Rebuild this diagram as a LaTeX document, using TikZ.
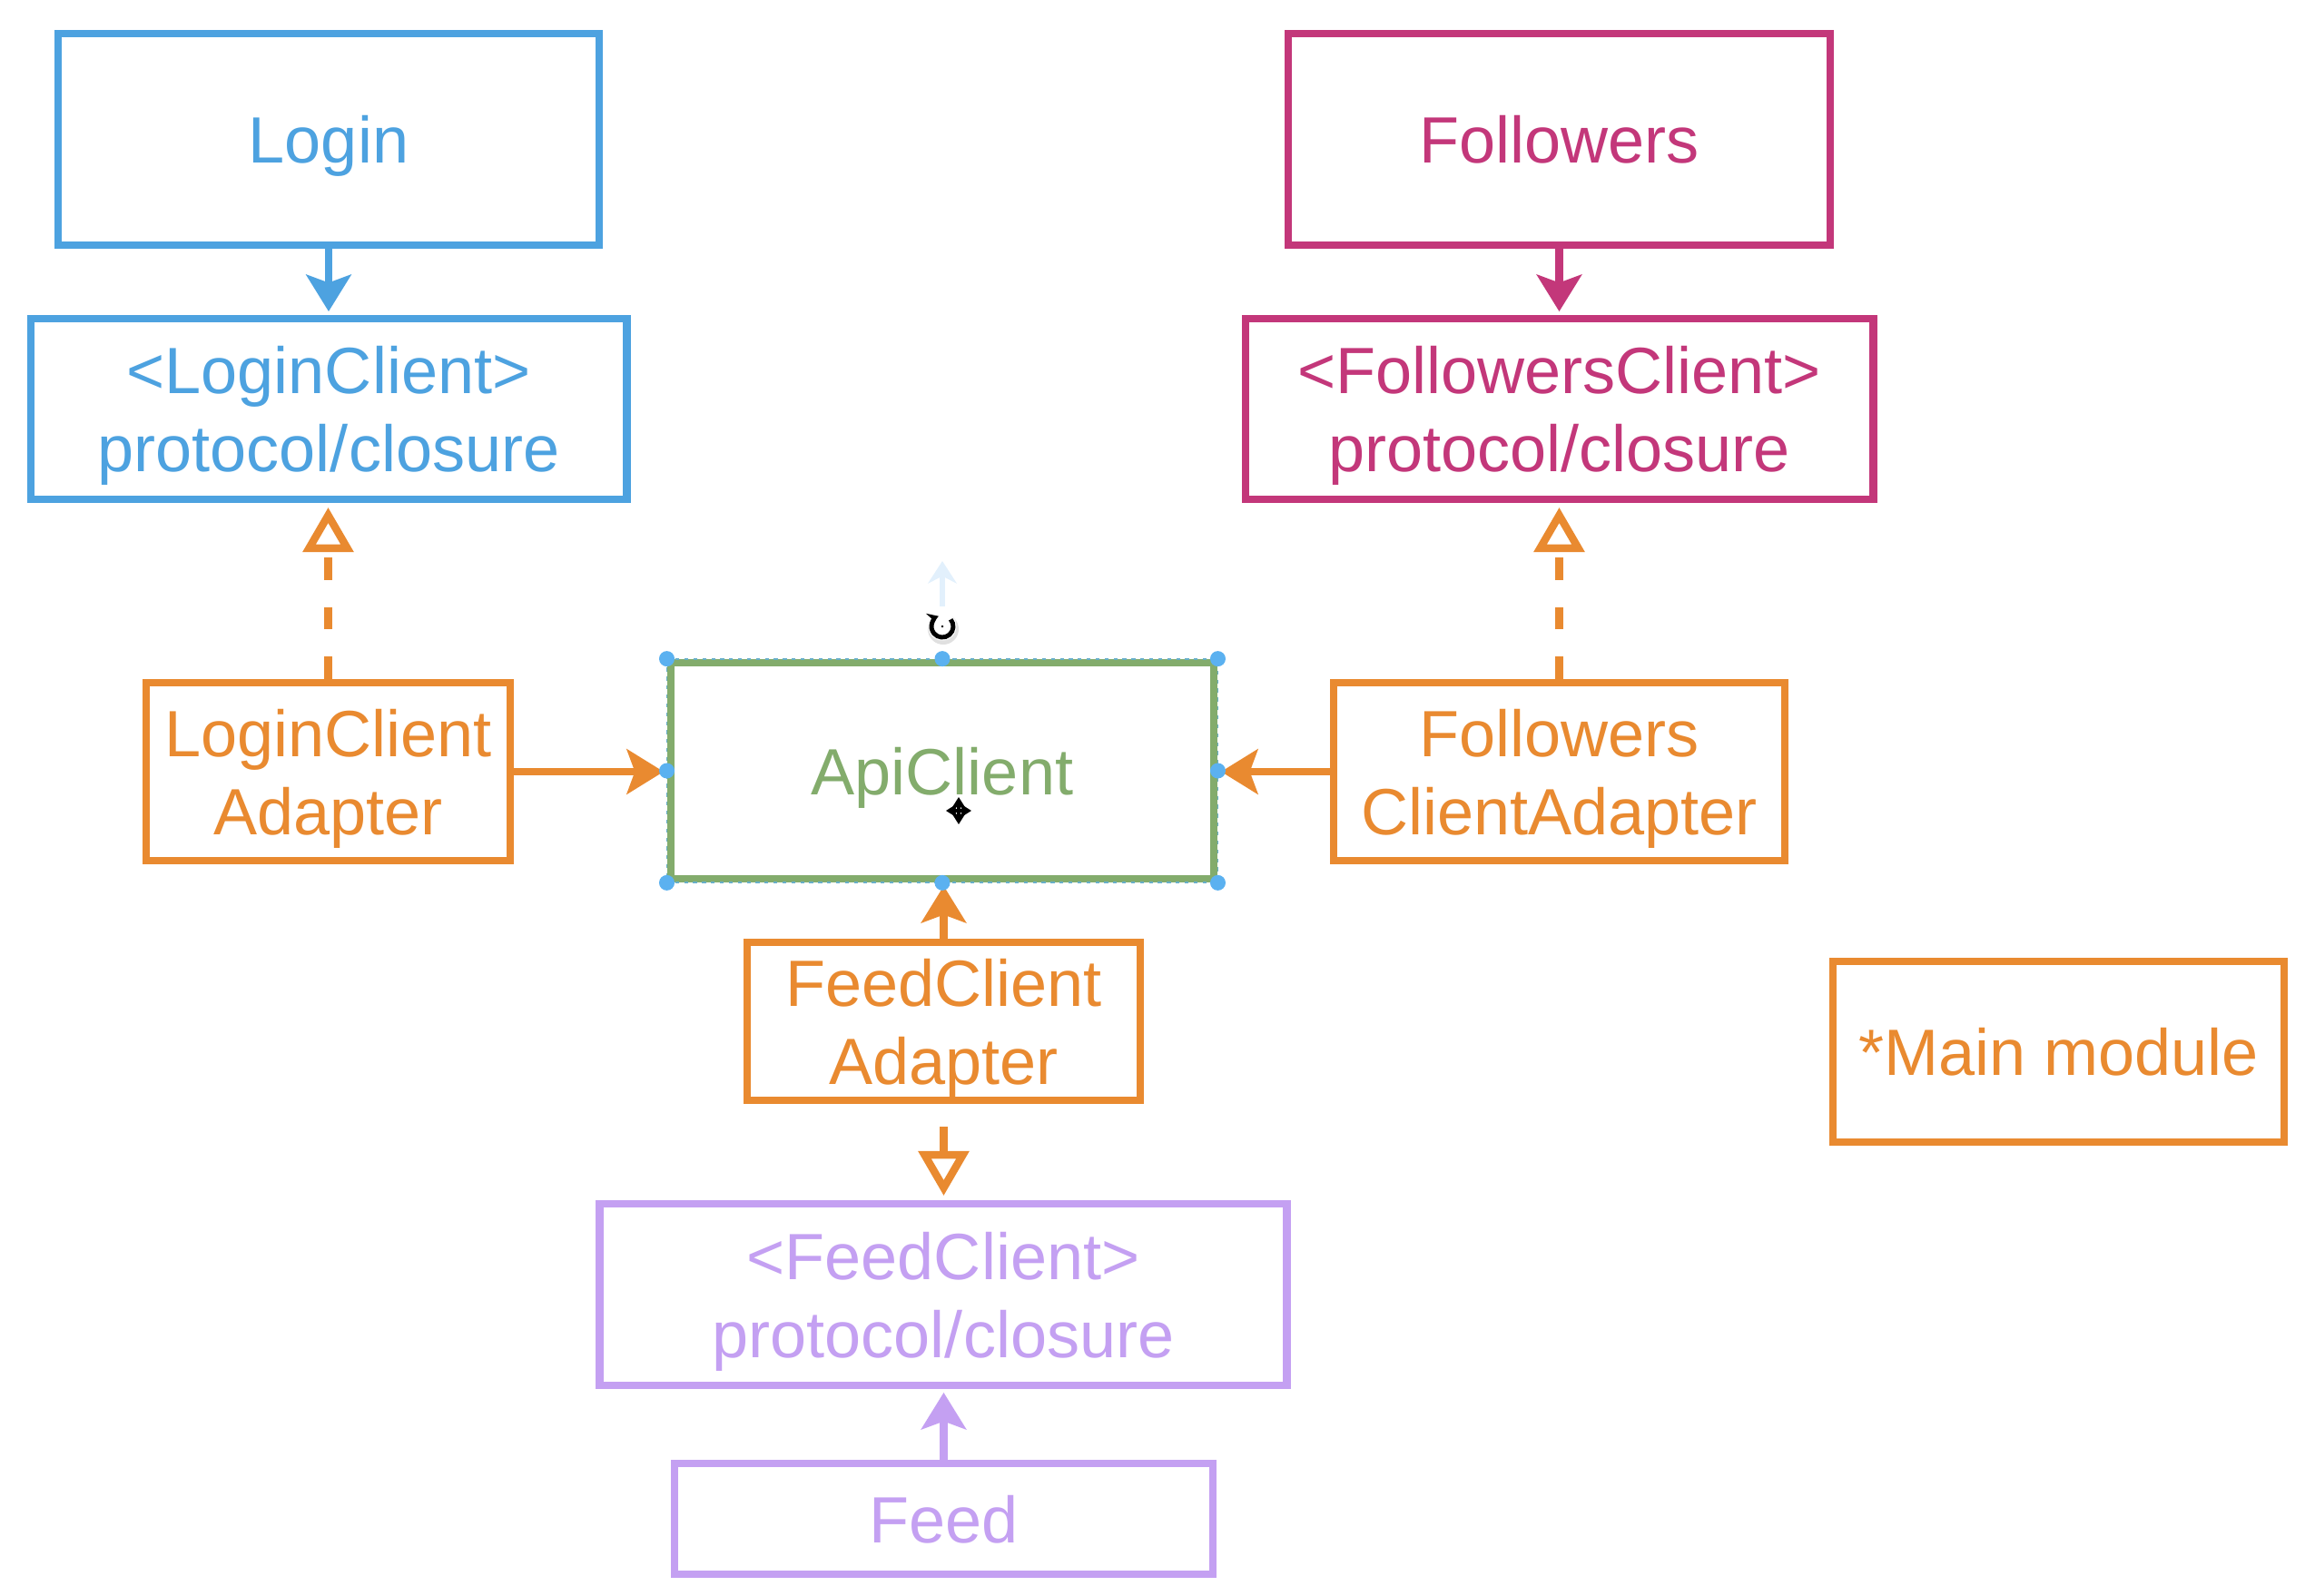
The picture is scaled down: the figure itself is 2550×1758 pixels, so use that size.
\documentclass[tikz,border=0pt]{standalone}
\usepackage{fontspec}
\setmainfont{Liberation Sans}
\usetikzlibrary{arrows.meta}
\definecolor{cblue}{HTML}{4DA2E0}
\definecolor{cmag}{HTML}{C3377A}
\definecolor{corange}{HTML}{E98A30}
\definecolor{cgreen}{HTML}{83AC6C}
\definecolor{cpurple}{HTML}{C4A0F2}
\definecolor{chandle}{HTML}{5BB1F0}
\definecolor{cfaint}{HTML}{E2F0FC}
\begin{document}
\begin{tikzpicture}[x=0.01cm,y=-0.01cm,
  box/.style={draw, line width=2.45pt, fill=white, inner sep=0pt, align=center,
    text depth=0pt, font=\fontsize{20.5}{24.5}\selectfont},
  conn/.style={line width=2.4pt},
  solidtip/.style={-{Stealth[length=11.5pt,width=14pt,inset=2.5pt]}},
  opentip/.style={-{Triangle[open,length=14pt,width=15.5pt,line width=2.4pt]}},
  dashconn/.style={line width=2.4pt, dash pattern=on 7pt off 8.5pt},
  handle/.style={fill=chandle}
]
\useasboundingbox (0,0) rectangle (2550,1758);

% boxes
\node[box, draw=cblue, text=cblue, minimum width=5.96cm, minimum height=2.33cm] (login) at (362,153.5) {Login};
\node[box, draw=cblue, text=cblue, minimum width=6.56cm, minimum height=1.99cm] (loginc) at (362,450.5) {<LoginClient>\\protocol/closure};
\node[box, draw=corange, text=corange, minimum width=4.01cm, minimum height=1.96cm] (logina) at (361.5,850) {LoginClient\\Adapter};

\node[box, draw=cmag, text=cmag, minimum width=5.97cm, minimum height=2.33cm] (foll) at (1717.5,153.5) {Followers};
\node[box, draw=cmag, text=cmag, minimum width=6.91cm, minimum height=1.99cm] (follc) at (1717.5,450.5) {<FollowersClient>\\protocol/closure};
\node[box, draw=corange, text=corange, minimum width=4.97cm, minimum height=1.96cm] (folla) at (1717.5,850) {Followers\\ClientAdapter};

\node[box, draw=cgreen, text=cgreen, minimum width=5.98cm, minimum height=2.38cm] (api) at (1038,849) {ApiClient};

\node[box, draw=corange, text=corange, minimum width=4.33cm, minimum height=1.74cm] (feeda) at (1039.5,1125) {FeedClient\\Adapter};
\node[box, draw=cpurple, text=cpurple, minimum width=7.56cm, minimum height=2.00cm] (feedc) at (1039,1426) {<FeedClient>\\protocol/closure};
\node[box, draw=cpurple, text=cpurple, minimum width=5.93cm, minimum height=1.22cm] (feed) at (1039.5,1673) {Feed};

\node[box, draw=corange, text=corange, minimum width=4.97cm, minimum height=1.99cm] (main) at (2267.5,1158.5) {*Main module};

% connectors
\draw[conn, cblue, solidtip, shorten >=1pt] (login.south) -- (login.south |- loginc.north);
\draw[conn, cmag, solidtip, shorten >=1pt] (foll.south) -- (foll.south |- follc.north);
\draw[dashconn, corange, opentip, shorten >=1.3pt] (logina.north) -- (logina.north |- loginc.south);
\draw[dashconn, corange, opentip, shorten >=1.3pt] (folla.north) -- (folla.north |- follc.south);
\draw[conn, corange, solidtip, shorten >=1pt] (logina.east) -- (logina.east -| api.west);
\draw[conn, corange, solidtip, shorten >=1pt] (folla.west) -- (folla.west -| api.east);
\draw[conn, corange, solidtip, shorten >=1pt] (feeda.north) -- (feeda.north |- api.south);
\draw[conn, corange, opentip, shorten <=0.25cm, shorten >=1.3pt] (feeda.south) -- (feeda.south |- feedc.north);
\draw[conn, cpurple, solidtip, shorten >=1pt] (feed.north) -- (feed.north |- feedc.south);

% selection overlay on ApiClient
\draw[chandle!70!cgreen, line width=0.5pt, dash pattern=on 1.2pt off 1.6pt] (api.north west) rectangle (api.south east);
\foreach \a in {north west,north,north east,east,south east,south,south west,west}
  \fill[handle] (api.\a) circle[radius=0.085cm];

% faint move arrow and rotate icon above
\draw[cfaint, line width=1.9pt, -{Stealth[length=7pt,width=9pt]}] (1038,668) -- (1038,618);
\fill[black!12] (1039,693) circle[radius=0.17cm];
\fill[white] (1038,690) circle[radius=0.155cm];
\draw[black, line width=1.4pt, -{Stealth[length=3.4pt,width=4.2pt]}] (1038,690) ++(40:0.12cm) arc[start angle=40, end angle=-250, radius=0.12cm];
\fill[black] (1038,690) circle[radius=0.014cm];

% move cursor
\draw[white, line width=2.6pt] (1041,893) -- (1071,893) (1056,877) -- (1056,909);
\draw[black, line width=1.2pt, {Stealth[length=4pt,width=5pt]}-{Stealth[length=4pt,width=5pt]}] (1042,893) -- (1070,893);
\draw[black, line width=1.2pt, {Stealth[length=4pt,width=5pt]}-{Stealth[length=4pt,width=5pt]}] (1056,878) -- (1056,908);
\end{tikzpicture}
\end{document}
